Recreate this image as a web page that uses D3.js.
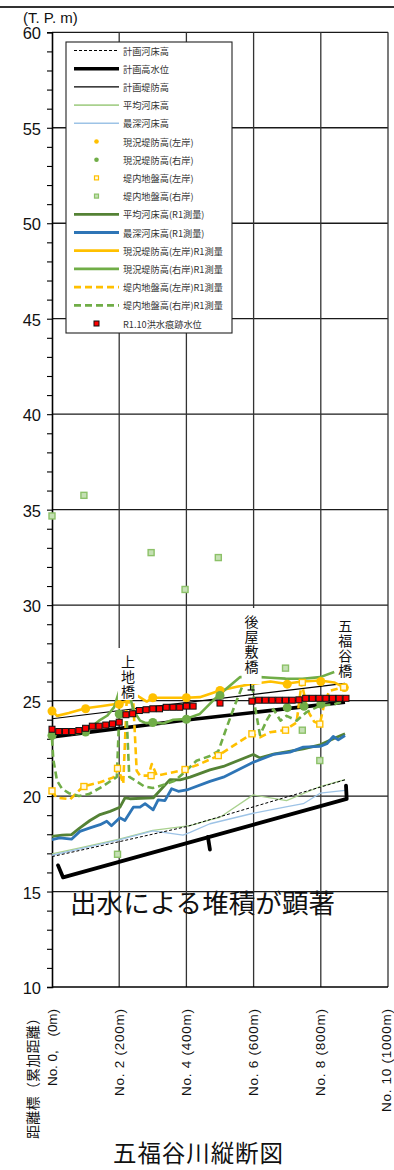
<!DOCTYPE html>
<html><head><meta charset="utf-8">
<script src="https://cdn.jsdelivr.net/npm/d3@7"></script>
<style>body{margin:0;background:#fff;}svg{display:block;}</style>
</head><body>
<svg id="c" width="394" height="1170"></svg>
<script>
// ---------------- data ----------------
const yTicks = [10,15,20,25,30,35,40,45,50,55,60];
const xTickLabels = [
  {d:0, t:"No. 0,\u3000(0m)"},
  {d:200, t:"No. 2 (200m)"},
  {d:400, t:"No. 4 (400m)"},
  {d:600, t:"No. 6 (600m)"},
  {d:800, t:"No. 8 (800m)"},
  {d:1000, t:"No. 10 (1000m)"}
];
const planBed   = [[0,16.83],[200,17.61],[400,18.4],[872,20.85]];
const planHWL   = [[0,23.1],[400,23.98],[872,24.92]];
const planLevee = [[0,24.05],[872,25.9]];
const oldAvgBed = [[0,16.97],[100,17.35],[200,17.74],[300,18.2],[411,18.45],[470,18.75],[500,18.89],[599,20.06],[698,19.76],[798,20.5],[872,20.86]];
const oldDeepBed= [[0,16.9],[100,17.3],[200,17.7],[300,18.18],[390,17.95],[411,18.1],[470,18.55],[599,19.1],[700,19.45],[748,19.6],[798,20.15],[872,20.3]];
const oldLeveeL = [[0,24.45],[100,24.57],[200,24.8],[300,25.15],[400,25.15],[500,25.53],[700,25.86],[800,26.0],[870,25.68]];
const oldLeveeR = [[0,23.17],[100,23.35],[200,24.3],[300,23.85],[400,24.02],[500,25.27],[700,24.63],[750,24.7],[800,24.82]];
const oldGroundL= [[0,20.27],[95,20.5],[195,21.45],[295,21.07],[396,21.39],[495,22.12],[595,23.26],[695,23.45],[745,25.95],[797,23.77],[868,25.7]];
const oldGroundR= [[0,34.67],[95,35.75],[195,16.95],[295,32.75],[396,30.82],[495,32.49],[695,26.7],[745,23.45],[797,21.86]];
const avgBedR1  = [[0,17.89],[30,17.95],[58,17.98],[83,18.33],[113,18.72],[143,19.03],[173,19.2],[202,19.41],[217,19.9],[232,19.86],[301,19.9],[351,20.86],[381,20.85],[411,20.99],[470,21.37],[510,21.55],[599,22.18],[619,22.0],[659,22.2],[748,22.47],[798,22.68],[847,23.08],[872,23.26]];
const deepBedR1 = [[0,17.72],[23,17.81],[58,17.74],[83,18.15],[113,18.33],[143,18.5],[163,18.68],[177,18.45],[202,18.86],[217,18.72],[242,19.42],[262,19.42],[277,19.6],[301,19.28],[316,19.8],[336,19.76],[356,20.38],[376,20.25],[401,20.32],[470,20.77],[510,20.99],[599,21.77],[659,22.18],[708,22.3],[748,22.56],[798,22.6],[818,22.74],[837,23.12],[852,22.94],[872,23.17]];
const leveeLR1  = [[0,24.48],[15,24.2],[50,24.35],[100,24.6],[150,24.72],[200,24.85],[230,25.0],[255,25.25],[282,24.95],[300,25.15],[340,25.15],[400,25.15],[440,25.18],[500,25.53],[550,25.72],[600,25.88],[650,26.0],[695,25.88],[745,26.0],[798,26.05],[840,25.95],[870,25.68]];
const leveeRR1  = [[0,23.17],[30,23.35],[60,23.25],[98,23.35],[140,23.95],[165,24.22],[185,24.66],[200,25.5],[215,25.9],[228,25.53],[242,24.5],[262,23.95],[280,23.82],[300,23.85],[330,23.8],[361,24.0],[396,24.03],[440,24.3],[495,25.27],[560,26.23],[620,26.23],[650,26.2],[695,26.15],[745,26.14],[798,26.23],[840,26.5]];
const groundLR1 = [[0,20.27],[14,19.92],[54,19.83],[93,20.5],[143,20.72],[183,20.98],[197,21.45],[212,20.64],[222,24.9],[242,24.9],[252,21.33],[262,21.07],[287,21.07],[297,21.68],[312,21.07],[361,21.25],[396,21.39],[440,21.68],[495,22.12],[594,23.26],[619,23.08],[649,23.34],[693,23.45],[728,23.85],[743,25.95],[760,24.5],[780,23.9],[797,23.77],[810,24.8],[825,25.5],[868,25.7]];
const groundRR1 = [[0,23.0],[4,21.9],[15,20.8],[30,20.38],[50,20.15],[80,20.0],[110,20.1],[150,20.5],[193,21.0],[200,24.2],[222,24.2],[230,21.0],[245,20.85],[275,20.5],[300,20.42],[335,20.6],[365,20.8],[395,21.25],[430,21.85],[470,22.1],[495,22.35],[520,23.6],[545,24.8],[570,25.9],[595,25.9],[605,24.6],[619,23.2],[640,24.0],[659,24.55],[680,23.95],[698,24.2],[728,23.95],[758,24.4],[798,24.74],[837,24.79],[872,25.0]];
const floodMarks= [[0,23.5],[20,23.38],[40,23.38],[60,23.38],[80,23.43],[100,23.55],[120,23.66],[140,23.66],[160,23.72],[180,23.78],[200,23.87],[220,24.26],[240,24.31],[260,24.48],[280,24.52],[300,24.57],[320,24.57],[340,24.65],[360,24.65],[380,24.65],[400,24.71],[420,24.71],[500,24.87],[595,24.97],[615,25.02],[635,25.02],[655,25.02],[675,25.02],[695,25.02],[715,25.02],[735,25.04],[755,25.12],[775,25.12],[795,25.12],[815,25.12],[835,25.12],[855,25.12],[875,25.12]];
const bracket   = [[18,16.37],[33,15.74],[877,19.85],[875,20.55]];
const bracketTick = [[464,17.86],[470,17.2]];
const bridges = [
  {name:"上地橋", d:226, top:648, bottom:700},
  {name:"後屋敷橋", d:594, top:608, bottom:684},
  {name:"五福谷橋", d:873, top:612, bottom:679}
];
const legendLabels = ["計画河床高","計画高水位","計画堤防高","平均河床高","最深河床高","現況堤防高(左岸)","現況堤防高(右岸)","堤内地盤高(左岸)","堤内地盤高(右岸)","平均河床高(R1測量)","最深河床高(R1測量)","現況堤防高(左岸)R1測量","現況堤防高(右岸)R1測量","堤内地盤高(左岸)R1測量","堤内地盤高(右岸)R1測量","R1.10洪水痕跡水位"];
const annotationText = "出水による堆積が顕著";
const titleText = "五福谷川縦断図";
const yUnit = "(T. P. m)";
const xAxisName = "距離標（累加距離）";

// ---------------- chart ----------------
const JP = "'Noto Sans CJK JP','Noto Sans CJK SC',sans-serif";
const LAT = "'Liberation Sans',Arial,sans-serif";
const svg = d3.select("#c");
const x = d3.scaleLinear().domain([0,1000]).range([52,388]);
const y = d3.scaleLinear().domain([10,60]).range([987,32.3]);
const line = d3.line().x(d=>x(d[0])).y(d=>y(d[1]));

// top rule
svg.append("line").attr("x1",0).attr("x2",394).attr("y1",7).attr("y2",7).attr("stroke","#333").attr("stroke-width",2);

// grid
const g = svg.append("g");
g.selectAll(".hg").data(yTicks.filter(v=>v>10)).enter().append("line")
  .attr("x1",x(0)).attr("x2",x(1000)).attr("y1",d=>y(d)).attr("y2",d=>y(d))
  .attr("stroke","#1a1a1a").attr("stroke-width",1.3);
g.selectAll(".vg").data(xTickLabels.filter(d=>d.d>0)).enter().append("line")
  .attr("x1",d=>x(d.d)).attr("x2",d=>x(d.d)).attr("y1",y(60)).attr("y2",y(10))
  .attr("stroke","#333").attr("stroke-width",1.3);
// axes
const yAxis = d3.axisLeft(y).tickValues(d3.range(10,61,1)).tickSize(5).tickFormat("");
const ya = svg.append("g").attr("transform",`translate(${x(0)},0)`).call(yAxis);
ya.select(".domain").attr("stroke","#000").attr("stroke-width",1.6);
ya.selectAll(".tick line").attr("stroke","#000").attr("stroke-width",1.1);
svg.append("line").attr("x1",x(0)).attr("x2",x(1000)).attr("y1",y(10)).attr("y2",y(10)).attr("stroke","#000").attr("stroke-width",1.4);

svg.selectAll(".yl").data(yTicks).enter().append("text")
  .attr("x",41).attr("y",d=>y(d)+1).attr("text-anchor","end").attr("dominant-baseline","central")
  .attr("font-family",LAT).attr("font-size",16.5).attr("fill","#111").text(d=>d);
svg.append("text").attr("x",23).attr("y",22.5).attr("font-family",LAT).attr("font-size",15).attr("fill","#111").text(yUnit);

// x labels (rotated)
const xLen = {0:77, 200:87, 400:87, 600:87, 800:87, 1000:103};
svg.selectAll(".xl").data(xTickLabels).enter().append("text")
  .attr("transform",d=>`translate(${Math.min(x(d.d),386)},1009) rotate(-90)`)
  .attr("text-anchor","end").attr("dominant-baseline","central")
  .attr("font-family",LAT).attr("font-size",13.5).attr("fill","#111")
  .attr("textLength",d=>xLen[d.d]).attr("lengthAdjust","spacing")
  .attr("xml:space","preserve").text(d=>d.t);
svg.append("text").attr("transform",`translate(${x(0)-20.5},1011) rotate(-90)`)
  .attr("text-anchor","end").attr("dominant-baseline","central")
  .attr("textLength",128).attr("lengthAdjust","spacing")
  .attr("font-family",JP).attr("font-size",14).attr("fill","#111").text(xAxisName);

// series lines
function path(data, color, w, dash){
  const p = svg.append("path").datum(data).attr("d",line).attr("fill","none")
    .attr("stroke",color).attr("stroke-width",w).attr("stroke-linejoin","round");
  if(dash) p.attr("stroke-dasharray",dash);
  return p;
}
path(oldAvgBed,"#A9D18E",1.3);
path(oldDeepBed,"#9DC3E6",1.3);
path(planBed,"#000",1,"3,2");
path(planHWL,"#000",3.6);
path(planLevee,"#000",1.1);
path(avgBedR1,"#548235",2.8);
path(deepBedR1,"#2E75B6",2.8);
path(groundLR1,"#FFC000",2.6,"7,4");
path(groundRR1,"#70AD47",2.6,"7,4");
path(leveeLR1,"#FFC000",2.6);
path(leveeRR1,"#70AD47",2.6);

// markers
svg.selectAll(".cL").data(oldLeveeL).enter().append("circle")
  .attr("cx",d=>x(d[0])).attr("cy",d=>y(d[1])).attr("r",4.5).attr("fill","#FFC000");
svg.selectAll(".cR").data(oldLeveeR).enter().append("circle")
  .attr("cx",d=>x(d[0])).attr("cy",d=>y(d[1])).attr("r",4.5).attr("fill","#70AD47");
svg.selectAll(".sL").data(oldGroundL).enter().append("rect")
  .attr("x",d=>x(d[0])-3).attr("y",d=>y(d[1])-3).attr("width",6).attr("height",6)
  .attr("fill","#FFF9E6").attr("stroke","#FFC000").attr("stroke-width",1.4);
svg.selectAll(".sR").data(oldGroundR).enter().append("rect")
  .attr("x",d=>x(d[0])-3).attr("y",d=>y(d[1])-3).attr("width",6).attr("height",6)
  .attr("fill","#C5E0B4").attr("stroke","#8CC168").attr("stroke-width",1.4);
svg.selectAll(".fm").data(floodMarks).enter().append("rect")
  .attr("x",d=>x(d[0])-3).attr("y",d=>y(d[1])-3).attr("width",6).attr("height",6)
  .attr("fill","#FF0000").attr("stroke","#111").attr("stroke-width",1);

// annotation bracket
path(bracket,"#000",3.8).attr("stroke-linecap","round");
path(bracketTick,"#000",3.8).attr("stroke-linecap","round");
svg.append("text").attr("x",70).attr("y",913).attr("font-family",JP).attr("font-size",26.5)
  .attr("textLength",265).attr("lengthAdjust","spacing")
  .attr("fill","#111").text(annotationText);

// bridge labels (vertical text)
bridges.forEach(b=>{
  const cx = x(b.d);
  svg.append("rect").attr("x",cx-10).attr("y",b.top).attr("width",20).attr("height",b.bottom-b.top).attr("fill","#fff");
  svg.append("text").attr("x",cx).attr("y",b.top+7)
    .style("writing-mode","vertical-rl").attr("letter-spacing",1)
    .attr("font-family",JP).attr("font-size",14).attr("fill","#111").text(b.name);
});
// bridge mark under 後屋敷橋
svg.append("line").attr("x1",x(594)-4).attr("x2",x(594)+3).attr("y1",690).attr("y2",690).attr("stroke","#111").attr("stroke-width",1.3);
svg.append("line").attr("x1",x(594)-1).attr("x2",x(594)-1).attr("y1",684).attr("y2",690).attr("stroke","#111").attr("stroke-width",1.3);

// legend
const L = svg.append("g");
L.append("rect").attr("x",66).attr("y",42).attr("width",166).attr("height",291)
  .attr("fill","#fff").attr("stroke","#222").attr("stroke-width",1.1);
const ly = i=>50.5+i*18.2;
const lx1=74, lx2=119, lxc=96.5;
const lineStyles = [
  ["#000",1,"3,2"],["#000",3.6],["#000",1.1],["#A9D18E",1.6],["#9DC3E6",1.6]
];
lineStyles.forEach((s,i)=>{
  const l=L.append("line").attr("x1",lx1).attr("x2",lx2).attr("y1",ly(i)).attr("y2",ly(i)).attr("stroke",s[0]).attr("stroke-width",s[1]);
  if(s[2]) l.attr("stroke-dasharray",s[2]);
});
L.append("circle").attr("cx",lxc).attr("cy",ly(5)).attr("r",2.3).attr("fill","#FFC000");
L.append("circle").attr("cx",lxc).attr("cy",ly(6)).attr("r",2.3).attr("fill","#70AD47");
L.append("rect").attr("x",lxc-2).attr("y",ly(7)-2).attr("width",4).attr("height",4).attr("fill","#FFF9E6").attr("stroke","#FFC000").attr("stroke-width",1.2);
L.append("rect").attr("x",lxc-2).attr("y",ly(8)-2).attr("width",4).attr("height",4).attr("fill","#C5E0B4").attr("stroke","#8CC168").attr("stroke-width",1.2);
const r1Styles = [["#548235",2.8],["#2E75B6",2.8],["#FFC000",2.8],["#70AD47",2.8],["#FFC000",2.8,"7,4"],["#70AD47",2.8,"7,4"]];
r1Styles.forEach((s,j)=>{
  const i=9+j;
  const l=L.append("line").attr("x1",lx1).attr("x2",lx2).attr("y1",ly(i)).attr("y2",ly(i)).attr("stroke",s[0]).attr("stroke-width",s[1]);
  if(s[2]) l.attr("stroke-dasharray",s[2]);
});
L.append("rect").attr("x",lxc-2.5).attr("y",ly(15)-2.5).attr("width",5).attr("height",5).attr("fill","#FF0000").attr("stroke","#111").attr("stroke-width",1);
L.selectAll(".lt").data(legendLabels).enter().append("text")
  .attr("x",123).attr("y",(d,i)=>ly(i)).attr("dominant-baseline","central")
  .attr("font-family",JP).attr("font-size",9.2).attr("fill","#333").text(d=>d);

// title
svg.append("text").attr("x",198).attr("y",1162).attr("text-anchor","middle")
  .attr("textLength",170).attr("lengthAdjust","spacing")
  .attr("font-family",JP).attr("font-size",23.5).attr("fill","#111").text(titleText);
</script>
</body></html>
